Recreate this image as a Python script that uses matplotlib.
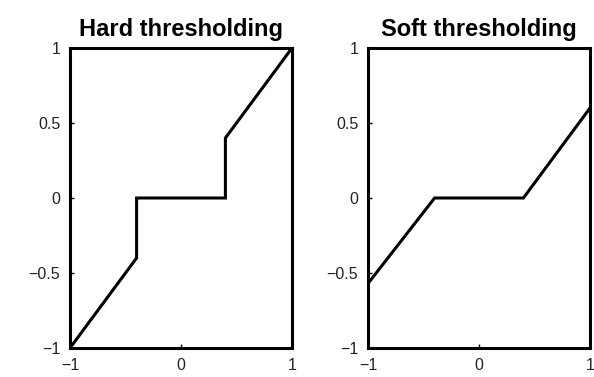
import matplotlib
matplotlib.use("Agg")
import matplotlib.pyplot as plt

# hard thresholding curve (threshold 0.4)
hard_x = [-1, -0.4, -0.4, 0.4, 0.4, 1]
hard_y = [-1, -0.4, 0, 0, 0.4, 1]

# soft thresholding curve
soft_x = [-1, -0.4, 0.4, 1]
soft_y = [-0.57, 0, 0, 0.6]

titles = ["Hard thresholding", "Soft thresholding"]
xticks = [-1, 0, 1]
xtick_labels = ["\u22121", "0", "1"]
yticks = [-1, -0.5, 0, 0.5, 1]
ytick_labels = ["\u22121", "\u22120.5", "0", "0.5", "1"]

plt.rcParams["font.family"] = ["Liberation Sans", "DejaVu Sans"]

fig = plt.figure(figsize=(5.94, 3.77), dpi=100)
ax1 = fig.add_axes([70 / 594, 29 / 377, 222 / 594, 300 / 377])
ax2 = fig.add_axes([368 / 594, 29 / 377, 222 / 594, 300 / 377])

for ax, xs, ys, title in [(ax1, hard_x, hard_y, titles[0]), (ax2, soft_x, soft_y, titles[1])]:
    ax.plot(xs, ys, color="black", linewidth=2.2, solid_joinstyle="miter")
    ax.set_xlim(-1, 1)
    ax.set_ylim(-1, 1)
    ax.set_xticks(xticks)
    ax.set_xticklabels(xtick_labels)
    ax.set_yticks(yticks)
    ax.set_yticklabels(ytick_labels)
    ax.tick_params(direction="in", length=3, width=1, labelsize=11.5, pad=7,
                   labelcolor="#222222")
    for s in ax.spines.values():
        s.set_linewidth(2.2)
    ax.set_title(title, fontsize=17, fontweight="bold", pad=9)

fig.savefig("out.png", dpi=100)
